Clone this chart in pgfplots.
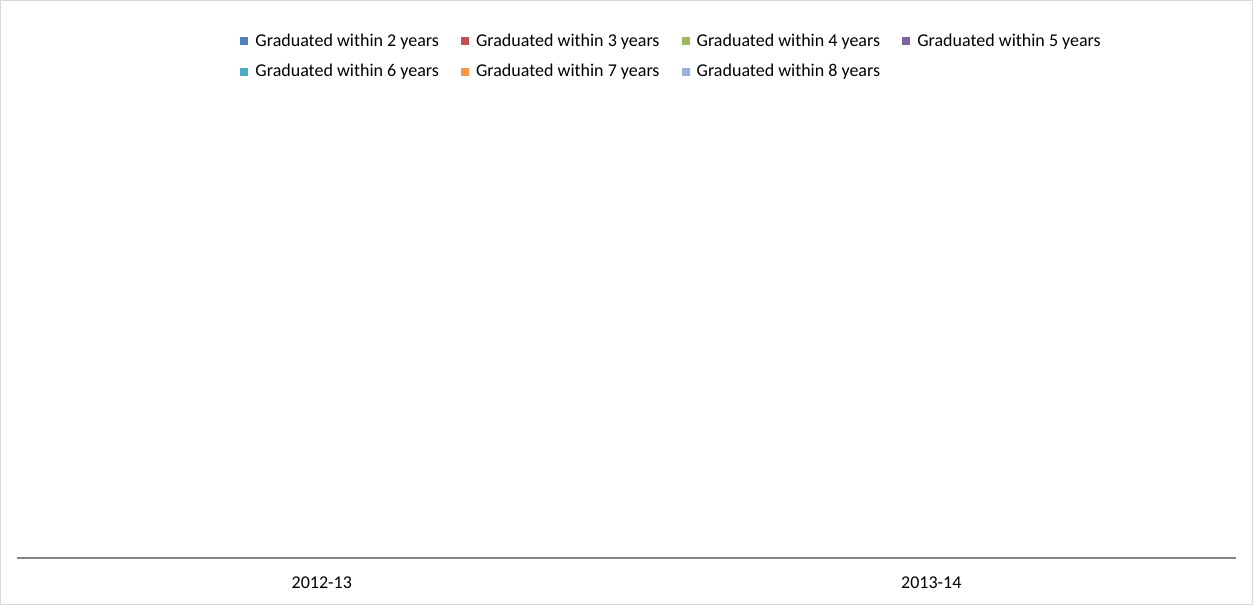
\documentclass[border=0pt]{standalone}
\usepackage{fontspec}
\setmainfont{Carlito}
\usepackage{pgfplots}
\pgfplotsset{compat=1.18}
\definecolor{s1}{HTML}{4F81BD}
\definecolor{s2}{HTML}{C0504D}
\definecolor{s3}{HTML}{9BBB59}
\definecolor{s4}{HTML}{8064A2}
\definecolor{s5}{HTML}{4BACC6}
\definecolor{s6}{HTML}{F79646}
\definecolor{s7}{HTML}{95B3D7}
\definecolor{axisgray}{HTML}{868686}
\definecolor{framegray}{HTML}{D9D9D9}
\begin{document}
\begin{tikzpicture}
% outer chart frame (1px = 0.5pt)
\useasboundingbox (0pt,0pt) rectangle (626.5pt,302.5pt);
\draw[framegray, line width=0.6pt] (0.3pt,0.3pt) rectangle (626.2pt,302.2pt);
\begin{axis}[
  at={(8.5pt,23.5pt)}, anchor=south west,
  scale only axis, width=609.5pt, height=269pt,
  xmin=-0.5, xmax=1.5, ymin=0, ymax=1,
  axis x line*=bottom, axis y line=none,
  x axis line style={axisgray, line width=0.8pt, -},
  xtick={0,1}, xticklabels={2012-13,2013-14},
  major tick length=0pt,
  ytick=\empty,
  /pgf/number format/assume math mode=true,
  tick label style={font=\fontsize{9}{11}\selectfont},
  xticklabel style={yshift=-6pt},
  legend columns=4,
  legend cell align=left,
  legend style={draw=none, fill=none, inner sep=0pt,
    at={(0.183,0.983)}, anchor=north west,
    font=\fontsize{9}{11}\selectfont,
    /tikz/every even column/.append style={column sep=9.1pt},
    row sep=3.6pt},
  legend image code/.code={\fill[#1] (0pt,-2pt) rectangle (4pt,2pt); \path (5.5pt,0pt);},
]
\addlegendimage{fill=s1, draw=none}
\addlegendentry{Graduated within 2 years}
\addlegendimage{fill=s2, draw=none}
\addlegendentry{Graduated within 3 years}
\addlegendimage{fill=s3, draw=none}
\addlegendentry{Graduated within 4 years}
\addlegendimage{fill=s4, draw=none}
\addlegendentry{Graduated within 5 years}
\addlegendimage{fill=s5, draw=none}
\addlegendentry{Graduated within 6 years}
\addlegendimage{fill=s6, draw=none}
\addlegendentry{Graduated within 7 years}
\addlegendimage{fill=s7, draw=none}
\addlegendentry{Graduated within 8 years}
\end{axis}
\end{tikzpicture}
\end{document}
